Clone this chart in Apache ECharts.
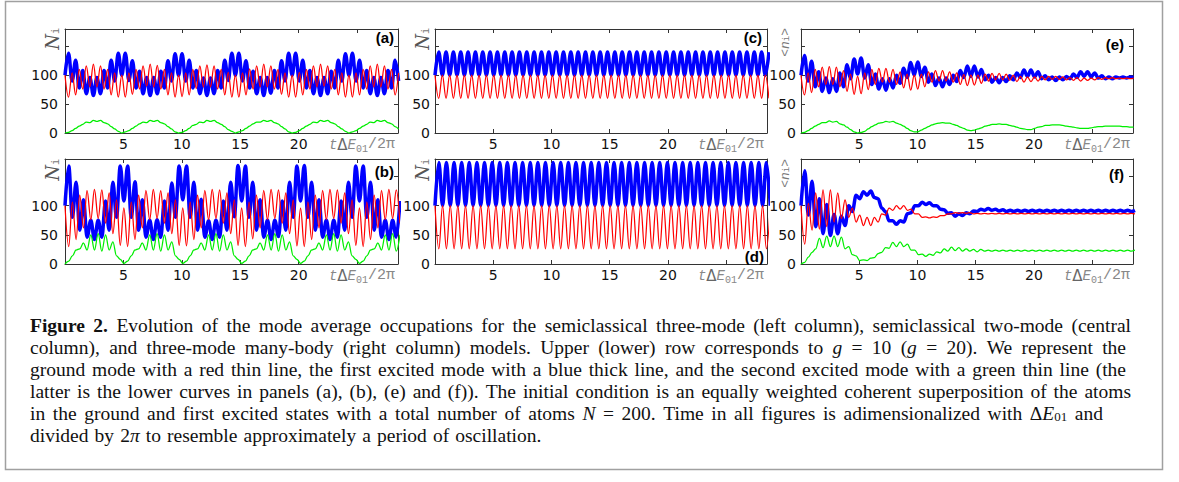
<!DOCTYPE html>
<html><head><meta charset="utf-8">
<script src="https://cdn.jsdelivr.net/npm/echarts/dist/echarts.min.js"></script>
<style>html,body{margin:0;padding:0;background:#fff}#c{width:1179px;height:482px}</style>
</head><body><div id="c"></div><script>
// ---------- DATA ----------
const xTickLabels = [5, 10, 15, 20];
const yTickLabels = [0, 50, 100];

// time samples (t ΔE01 / 2π) at the fast-oscillation extrema, panels (a),(e)
const timeA = [0,0.30,0.61,0.91,1.22,1.52,1.82,2.13,2.43,2.73,3.04,3.34,3.65,3.95,4.25,4.56,
4.86,5.16,5.47,5.77,6.08,6.38,6.68,6.99,7.29,7.59,7.90,8.20,8.51,8.81,9.11,9.42,
9.72,10.02,10.33,10.63,10.94,11.24,11.54,11.85,12.15,12.45,12.76,13.06,13.37,13.67,13.97,14.28,
14.58,14.88,15.19,15.49,15.80,16.10,16.40,16.71,17.01,17.31,17.62,17.92,18.23,18.53,18.83,19.14,
19.44,19.74,20.05,20.35,20.66,20.96,21.26,21.57,21.87,22.17,22.48,22.78,23.09,23.39,23.69,24.00,
24.30,24.60,24.91,25.21,25.52,25.82,26.12,26.43,26.73,27.03,27.34,27.64,27.95,28.25,28.55];
// panels (b),(c),(f)
const timeB = [0,0.32,0.63,0.95,1.26,1.58,1.89,2.21,2.52,2.84,3.15,3.47,3.78,4.10,4.41,4.73,
5.04,5.36,5.67,5.99,6.30,6.62,6.93,7.25,7.56,7.88,8.19,8.51,8.82,9.14,9.45,9.77,
10.08,10.40,10.71,11.03,11.34,11.66,11.97,12.29,12.60,12.92,13.23,13.55,13.86,14.18,14.49,14.81,
15.12,15.44,15.75,16.07,16.38,16.70,17.01,17.33,17.64,17.96,18.27,18.59,18.90,19.22,19.53,19.85,
20.16,20.48,20.79,21.11,21.42,21.74,22.05,22.37,22.68,23.00,23.31,23.63,23.94,24.26,24.57,24.89,
25.20,25.52,25.83,26.15,26.46,26.78,27.09,27.41,27.72,28.04,28.35,28.67];
// panel (d)
const timeD = [0,0.33,0.65,0.98,1.31,1.64,1.96,2.29,2.62,2.94,3.27,3.60,3.92,4.25,4.58,4.91,
5.23,5.56,5.89,6.21,6.54,6.87,7.19,7.52,7.85,8.18,8.50,8.83,9.16,9.48,9.81,10.14,
10.46,10.79,11.12,11.45,11.77,12.10,12.43,12.75,13.08,13.41,13.73,14.06,14.39,14.72,15.04,15.37,
15.70,16.02,16.35,16.68,17.00,17.33,17.66,17.99,18.31,18.64,18.97,19.29,19.62,19.95,20.27,20.60,
20.93,21.26,21.58,21.91,22.24,22.56,22.89,23.22,23.54,23.87,24.20,24.53,24.85,25.18,25.51,25.83,
26.16,26.49,26.81,27.14,27.47,27.80,28.12,28.45,28.78];

// (a) semiclassical three-mode, g = 10
const blueA = [100,138,90,126,78,108,68,96,65,96,68,108,78,126,90,138,
100,138,91,125,78,107,68,96,65,96,68,107,78,125,90,137,
100,137,90,126,78,108,68,95,65,95,68,108,78,126,91,138,
100,138,90,125,78,107,68,96,65,96,69,108,78,125,90,138,
100,138,90,126,78,108,68,96,65,96,68,107,78,126,90,137,
100,138,90,126,78,108,68,96,65,96,68,108,78,126,90];
const redA = [100,62,104,66,110,76,116,80,119,80,116,76,110,66,104,62,
100,62,104,67,110,76,116,81,119,80,117,76,110,66,104,62,
100,63,104,66,110,77,116,80,118,80,116,76,110,66,105,62,
100,62,104,66,111,76,116,80,119,80,116,76,110,67,104,62,
100,62,105,66,110,76,116,80,119,81,116,76,110,66,104,62,
100,62,104,66,110,76,116,80,119,80,116,76,110,66,104];
const greenA = [0,1,4,8,12,15,19,18,22,20,22,18,16,11,7,3,
0,2,4,8,12,16,19,18,22,20,22,18,16,11,7,2,
0,1,4,8,13,15,19,18,22,20,22,18,15,11,6,3,
0,2,4,8,12,16,19,19,22,20,22,18,16,11,7,2,
0,1,4,8,12,15,19,18,22,20,22,18,16,11,7,3,
0,2,4,8,12,15,19,18,22,20,22,18,16,11,7];

// (b) semiclassical three-mode, g = 20
const blueB = [100,168,80,140,58,110,46,75,42,75,46,108,58,140,80,168,
108,168,80,141,58,110,46,75,42,76,46,108,58,139,80,168,
110,168,80,140,58,111,46,74,42,75,46,108,58,140,81,169,
108,168,80,140,58,110,46,75,42,75,47,108,58,140,80,168,
108,169,80,140,58,110,46,75,42,75,46,108,58,140,80,168,
108,168,80,140,58,110,46,75,42,75,46,108];
const redB = [100,30,106,42,118,62,126,76,128,78,127,70,122,52,110,32,
96,30,106,42,118,62,126,76,128,78,126,70,122,52,110,32,
96,31,106,42,118,62,126,76,128,78,127,70,122,52,110,32,
96,30,106,43,118,62,126,76,128,78,127,70,122,52,110,31,
96,30,106,42,118,62,126,76,128,78,127,70,122,52,110,32,
96,30,106,42,118,62,126,76,128,78,127,70];
const greenB = [0,5,14,24,26,36,24,50,24,52,22,50,24,38,14,8,
1,5,14,24,26,36,24,50,24,52,22,50,24,38,14,8,
1,5,14,24,26,36,24,50,24,52,22,50,24,38,14,8,
1,5,14,24,26,36,24,50,24,52,22,50,24,38,14,8,
1,5,14,24,26,36,24,50,24,52,22,50,24,38,14,8,
1,5,14,24,26,36,24,50,24,52,22,50];

// (c) semiclassical two-mode, g = 10
const blueC = [100,140,100,140,100,140,100,140,100,140,100,140,100,140,100,140,
100,140,100,140,100,140,100,140,100,140,100,140,100,140,100,140,
100,140,100,140,100,140,100,140,100,140,100,140,100,140,100,140,
100,140,100,140,100,140,100,140,100,140,100,140,100,140,100,140,
100,140,100,140,100,140,100,140,100,140,100,140,100,140,100,140,
100,140,100,140,100,140,100,140,100,140,100,140];
const redC = [100,60,100,60,100,60,100,60,100,60,100,60,100,60,100,60,
100,60,100,60,100,60,100,60,100,60,100,60,100,60,100,60,
100,60,100,60,100,60,100,60,100,60,100,60,100,60,100,60,
100,60,100,60,100,60,100,60,100,60,100,60,100,60,100,60,
100,60,100,60,100,60,100,60,100,60,100,60,100,60,100,60,
100,60,100,60,100,60,100,60,100,60,100,60];

// (d) semiclassical two-mode, g = 20
const blueD = [100,174,100,174,100,174,100,174,100,174,100,174,100,174,100,174,
100,174,100,174,100,174,100,174,100,174,100,174,100,174,100,174,
100,174,100,174,100,174,100,174,100,174,100,174,100,174,100,174,
100,174,100,174,100,174,100,174,100,174,100,174,100,174,100,174,
100,174,100,174,100,174,100,174,100,174,100,174,100,174,100,174,
100,174,100,174,100,174,100,174,100];
const redD = [100,26,100,26,100,26,100,26,100,26,100,26,100,26,100,26,
100,26,100,26,100,26,100,26,100,26,100,26,100,26,100,26,
100,26,100,26,100,26,100,26,100,26,100,26,100,26,100,26,
100,26,100,26,100,26,100,26,100,26,100,26,100,26,100,26,
100,26,100,26,100,26,100,26,100,26,100,26,100,26,100,26,
100,26,100,26,100,26,100,26,100];

// (e) three-mode many-body, g = 10
const blueE = [100,134,90,124,80,106,72,95,70,94,72,104,80,118,94,128,
102,130,95,118,84,102,76,94,74,94,78,100,86,112,96,122,
100,123,98,114,88,102,82,95,80,95,84,100,89,108,96,116,
98,116,97,110,92,100,88,96,87,96,89,99,92,104,96,109,
98,109,97,106,94,99,92,97,91,97,92,98,94,102,96,106,
98,106,97,104,95,99,94,97,94,97,95,97,95,97,96];
const redE = [100,66,104,70,110,80,114,84,115,84,114,80,108,72,102,67,
98,68,104,75,110,84,112,88,112,88,110,84,106,78,102,74,
100,76,102,80,106,88,108,90,108,90,106,88,104,84,101,82,
100,83,100,86,102,90,103,92,103,92,102,91,100,89,98,88,
97,89,97,90,98,92,98,93,98,93,97,92,96,91,96,90,
95,91,95,92,96,93,96,94,96,94,95,94,95,94,95];
const greenE = [0,1,4,8,12,15,18,18,21,19,20,16,14,10,6,2,
0,1,3,7,11,14,17,18,20,19,20,17,15,12,8,4,
2,2,5,8,11,14,16,17,18,17,17,15,13,10,8,5,
4,5,7,9,12,13,15,15,16,15,15,13,12,10,8,7,
6,6,8,10,11,13,13,14,14,14,13,12,11,10,9,8,
8,8,9,10,11,11,12,12,12,12,12,11,11,10,10];

// (f) three-mode many-body, g = 20
const blueF = [100,160,84,142,64,112,52,102,49,85,52,82,66,100,90,118,
112,124,118,125,114,112,96,90,74,74,68,74,72,86,88,100,
100,106,102,105,100,100,94,93,87,88,82,86,83,88,86,91,
90,94,92,95,92,94,91,93,90,92,90,92,90,92,90,92,
90,92,90,92,90,92,90,92,90,92,90,92,90,92,90,92,
90,92,90,92,90,92,90,92,90,92,90,92];
const redF = [100,34,104,58,122,60,127,64,127,72,122,78,110,80,96,72,
84,66,80,66,80,72,86,84,96,92,100,94,100,92,94,86,
86,80,81,79,81,80,83,83,86,86,88,87,88,87,88,86,
87,86,87,86,87,86,87,86,87,86,87,86,87,86,87,86,
87,86,87,86,87,86,87,86,87,86,87,86,87,86,87,86,
87,86,87,86,87,86,87,86,87,86,87,86];
const greenF = [0,3,12,20,26,44,28,48,30,48,30,46,26,30,16,14,
6,7,6,10,11,18,20,28,27,37,30,38,30,34,24,24,
16,17,13,17,15,21,19,26,22,29,23,28,22,26,22,25,
21,25,22,24,22,24,22,24,22,24,22,24,22,24,22,24,
22,24,22,24,22,24,22,24,22,24,22,24,22,24,22,24,
22,24,22,24,22,24,22,24,22,24,22,24];

const captionLines = [
 '**Figure** **2.** Evolution of the mode average occupations for the semiclassical three-mode (left column), semiclassical two-mode (central',
 'column), and three-mode many-body (right column) models. Upper (lower) row corresponds to *g* = 10 (*g* = 20). We represent the',
 'ground mode with a red thin line, the first excited mode with a blue thick line, and the second excited mode with a green thin line (the',
 'latter is the lower curves in panels (a), (b), (e) and (f)). The initial condition is an equally weighted coherent superposition of the atoms',
 'in the ground and first excited states with a total number of atoms *N* = 200. Time in all figures is adimensionalized with Δ*E*_01_ and',
 'divided by 2*π* to resemble approximately a period of oscillation.'
];

// ---------- LAYOUT / STYLE ----------
const X_MAX = 28.5, Y_MAX = 180;
const panels = [
 {key:'a', t:timeA, red:redA, blue:blueA, green:greenA, ylab:'N', letter:'(a)',
  box:{left:65,top:29,width:333,height:104}, margin:7, letterAt:[394,37], ylabAt:[52,28]},
 {key:'b', t:timeB, red:redB, blue:blueB, green:greenB, ylab:'N', letter:'(b)',
  box:{left:65,top:159,width:333,height:105}, margin:7, letterAt:[394,171], ylabAt:[52,159]},
 {key:'c', t:timeB, red:redC, blue:blueC, green:null, ylab:'N', letter:'(c)',
  box:{left:435,top:29,width:332,height:104}, margin:5, letterAt:[762,37], ylabAt:[422,28]},
 {key:'d', t:timeD, red:redD, blue:blueD, green:null, ylab:'N', letter:'(d)',
  box:{left:435,top:159,width:332,height:105}, margin:5, letterAt:[764,256], ylabAt:[422,159]},
 {key:'e', t:timeA, red:redE, blue:blueE, green:greenE, ylab:'n', letter:'(e)',
  box:{left:801,top:29,width:332,height:104}, margin:5, letterAt:[1124,44], ylabAt:[785,28]},
 {key:'f', t:timeB, red:redF, blue:blueF, green:greenF, ylab:'n', letter:'(f)',
  box:{left:801,top:159,width:332,height:105}, margin:5, letterAt:[1124,174], ylabAt:[785,159]}
];
const AX = '#333';
const lineStyles = {
  blue:{color:'#0000ff', width:3.5},
  red:{color:'#ff0000', width:1.25},
  green:{color:'#00ee00', width:1.25}
};

const grid = [], xAxis = [], yAxis = [], series = [], graphic = [];
const xNameRich = {
  t:{fontFamily:'Liberation Mono', fontStyle:'italic', fontSize:14, color:'#888'},
  d:{fontFamily:'DejaVu Sans', fontSize:15, color:'#666'},
  e:{fontFamily:'Liberation Mono', fontStyle:'italic', fontSize:14, color:'#888'},
  s:{fontFamily:'Liberation Mono', fontSize:10, color:'#888', padding:[9,0,0,0]},
  n:{fontFamily:'Liberation Mono', fontSize:15, color:'#888'}
};

panels.forEach((p, i) => {
  grid.push(Object.assign({containLabel:false}, p.box));
  const common = {gridIndex:i, type:'value', splitLine:{show:false},
    axisLine:{show:true, onZero:false, lineStyle:{color:AX, width:1}},
    axisTick:{show:true, inside:true, length:4, lineStyle:{color:AX}}};
  xAxis.push(Object.assign({}, common, {position:'bottom', min:0, max:X_MAX, interval:5,
    axisLabel:{show:true, margin:4, color:'#111', fontSize:14, fontFamily:'DejaVu Sans',
      formatter: v => xTickLabels.includes(v) ? String(v) : ''},
    name:'{t|t}{d|Δ}{e|E}{s|01}{n|/2π}', nameLocation:'end', nameGap:-3,
    nameTextStyle:{align:'right', verticalAlign:'top', padding:[2,0,0,0], rich:xNameRich}}));
  xAxis.push(Object.assign({}, common, {position:'top', min:0, max:X_MAX, interval:5,
    axisLabel:{show:false}}));
  yAxis.push(Object.assign({}, common, {position:'left', min:0, max:Y_MAX, interval:50,
    axisLabel:{show:true, margin:p.margin, color:'#111', fontSize:14, fontFamily:'DejaVu Sans',
      formatter: v => yTickLabels.includes(v) ? String(v) : ''}}));
  yAxis.push(Object.assign({}, common, {position:'right', min:0, max:Y_MAX, interval:50,
    axisLabel:{show:false}}));
  const order = [['blue', p.blue], ['red', p.red], ['green', p.green]];
  order.forEach(([c, vals]) => {
    if (!vals) return;
    series.push({type:'line', xAxisIndex:2*i, yAxisIndex:2*i, name:p.key + '-' + c,
      data: p.t.map((tt, j) => [tt, vals[j]]),
      showSymbol:false, smooth:0.37, smoothMonotone:'x', clip:true, silent:true,
      lineStyle:Object.assign({}, lineStyles[c]), animation:false, z:2});
  });
  graphic.push({type:'text', x:p.letterAt[0], y:p.letterAt[1], z:10,
    style:{text:p.letter, align:'right', verticalAlign:'middle', fill:'#000',
      fontFamily:'Liberation Sans', fontWeight:'bold', fontSize:15}});
  const yl = p.ylab === 'N'
    ? {text:'{n|N}{i|i}', rich:{n:{fontFamily:'DejaVu Serif', fontStyle:'italic', fontSize:18, fill:'#555', verticalAlign:'bottom'},
        i:{fontFamily:'Liberation Mono', fontSize:10, fill:'#777', verticalAlign:'bottom'}}}
    : {text:'{p|<}{n|n}{i|i}{p|>}', rich:{p:{fontFamily:'Liberation Mono', fontSize:13, fill:'#777', verticalAlign:'bottom'},
        n:{fontFamily:'Liberation Mono', fontStyle:'italic', fontSize:13, fill:'#777', verticalAlign:'bottom'},
        i:{fontFamily:'Liberation Mono', fontSize:9, fill:'#777', verticalAlign:'bottom'}}};
  graphic.push({type:'text', x:p.ylabAt[0], y:p.ylabAt[1], rotation:Math.PI/2, z:10,
    style:Object.assign({align:'right', verticalAlign:'middle'}, yl)});
});

// outer frame
graphic.push({type:'rect', z:0, silent:true, shape:{x:5.5, y:1.5, width:1157, height:468},
  style:{fill:'none', stroke:'#a0a0a0', lineWidth:1.5}});

// caption, placed word by word so that lines are justified like the original
const CAP = {left:30, lineY:[326,348,370,392,414,436], right:[1131,1126,1126,1131,1103,null], lastLineWidth:553};
const mctx = document.createElement('canvas').getContext('2d');
const FAM = '"Liberation Serif"';
const fontOf = {
  r: s => `${s}px ${FAM}`, b: s => `bold ${s}px ${FAM}`,
  i: s => `italic ${s}px ${FAM}`, s: s => `${Math.round(s*0.68)}px ${FAM}`
};
function parseWord(w) {
  const segs = []; const re = /\*\*(.+?)\*\*|\*(.+?)\*|_(.+?)_|([^*_]+)/g; let m;
  while ((m = re.exec(w))) {
    if (m[1]) segs.push(['b', m[1]]); else if (m[2]) segs.push(['i', m[2]]);
    else if (m[3]) segs.push(['s', m[3]]); else segs.push(['r', m[4]]);
  }
  return segs;
}
function measure(segs, size) {
  let w = 0; segs.forEach(([k, t]) => { mctx.font = fontOf[k](size); w += mctx.measureText(t).width; }); return w;
}
function lineNatural(line, size) {
  const ws = line.split(' ').map(parseWord);
  mctx.font = fontOf.r(size);
  const sp = mctx.measureText(' ').width;
  return ws.reduce((a, s) => a + measure(s, size), 0) + sp * (ws.length - 1);
}
// font size chosen so that the last (unjustified) line has the original's length,
// capped so that the text boxes of neighbouring lines do not overlap
let sz = 18 * CAP.lastLineWidth / lineNatural(captionLines[5], 18);
sz = Math.max(17, Math.min(19.5, Math.round(sz * 2) / 2));
const capRich = {
  r:{fontFamily:'Liberation Serif', fontSize:sz, fill:'#111', verticalAlign:'bottom', lineHeight:18},
  b:{fontFamily:'Liberation Serif', fontWeight:'bold', fontSize:sz, fill:'#111', verticalAlign:'bottom', lineHeight:18},
  i:{fontFamily:'Liberation Serif', fontStyle:'italic', fontSize:sz, fill:'#111', verticalAlign:'bottom', lineHeight:18},
  s:{fontFamily:'Liberation Serif', fontSize:Math.round(sz*0.68), fill:'#111', verticalAlign:'bottom', lineHeight:12}
};
mctx.font = fontOf.r(sz);
const spaceW = mctx.measureText(' ').width;
captionLines.forEach((line, li) => {
  const words = line.split(' ').map(parseWord);
  const widths = words.map(s => measure(s, sz));
  const total = widths.reduce((a, b) => a + b, 0);
  const target = CAP.right[li];
  let gap = target ? (target - CAP.left - total) / (words.length - 1) : spaceW * 1.25;
  gap = Math.max(gap, spaceW * 0.6);
  let x = CAP.left;
  words.forEach((segs, wi) => {
    graphic.push({type:'text', x:x, y:CAP.lineY[li], z:10, silent:true,
      style:{text: segs.map(([k, t]) => `{${k}|${t}}`).join(''), rich:capRich,
        align:'left', verticalAlign:'middle'}});
    x += widths[wi] + gap;
  });
});

const chart = echarts.init(document.getElementById('c'), null, {renderer:'svg', width:1179, height:482});
chart.setOption({animation:false, backgroundColor:'#fff', grid, xAxis, yAxis, series, graphic});
</script></body></html>
